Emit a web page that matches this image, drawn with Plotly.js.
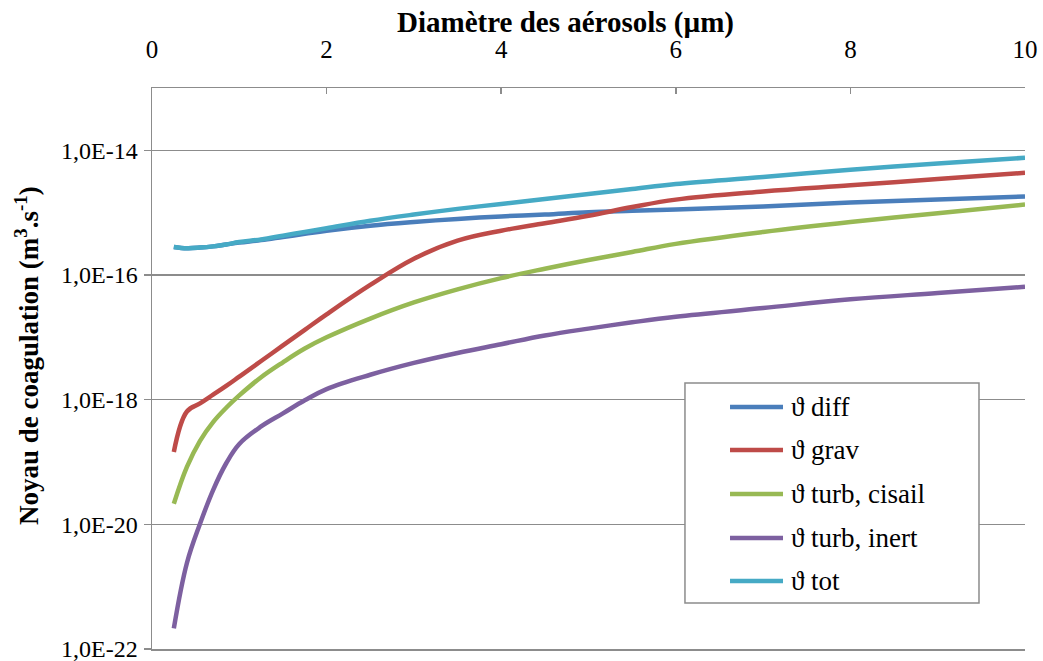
<!DOCTYPE html>
<html>
<head>
<meta charset="utf-8">
<script src="https://cdn.plot.ly/plotly-3.0.1.min.js"></script>
<style>html,body{margin:0;padding:0;background:#fff;}#chart{width:1043px;height:661px;}</style>
</head>
<body>
<div id="chart"></div>
<script>
// Diamètre des aérosols (µm)
const diameter = [0.25, 0.4, 0.55, 0.7, 0.85, 1.0, 1.25, 1.5, 1.75, 2, 2.5, 3, 3.5, 4, 4.5, 5, 5.5, 6, 7, 8, 9, 10];

const kDiff = [2.82e-16, 2.69e-16, 2.75e-16, 2.88e-16, 3.09e-16, 3.31e-16, 3.63e-16, 4.07e-16, 4.57e-16, 5.13e-16, 6.17e-16, 7.08e-16, 7.94e-16, 8.71e-16, 9.33e-16, 1.02e-15, 1.07e-15, 1.12e-15, 1.26e-15, 1.45e-15, 1.62e-15, 1.82e-15];
const kGrav = [1.45e-19, 6.46e-19, 8.71e-19, 1.20e-18, 1.66e-18, 2.34e-18, 4.17e-18, 7.41e-18, 1.32e-17, 2.34e-17, 6.92e-17, 1.82e-16, 3.55e-16, 5.13e-16, 6.76e-16, 8.91e-16, 1.23e-15, 1.62e-15, 2.19e-15, 2.75e-15, 3.47e-15, 4.37e-15];
const kTurbCis = [2.14e-20, 8.32e-20, 2.19e-19, 4.37e-19, 7.41e-19, 1.17e-18, 2.29e-18, 3.98e-18, 6.61e-18, 1.00e-17, 2.00e-17, 3.63e-17, 5.89e-17, 8.91e-17, 1.26e-16, 1.74e-16, 2.34e-16, 3.16e-16, 4.90e-16, 7.08e-16, 9.77e-16, 1.35e-15];
const kTurbIn = [2.14e-22, 2.40e-21, 1.02e-20, 3.55e-20, 9.55e-20, 1.95e-19, 3.72e-19, 6.03e-19, 9.77e-19, 1.48e-18, 2.51e-18, 3.89e-18, 5.62e-18, 7.76e-18, 1.07e-17, 1.38e-17, 1.74e-17, 2.14e-17, 2.95e-17, 4.07e-17, 5.13e-17, 6.46e-17];
const kTot = [2.82e-16, 2.69e-16, 2.75e-16, 2.88e-16, 3.09e-16, 3.39e-16, 3.72e-16, 4.27e-16, 4.90e-16, 5.62e-16, 7.41e-16, 9.33e-16, 1.15e-15, 1.38e-15, 1.66e-15, 2.00e-15, 2.40e-15, 2.88e-15, 3.72e-15, 4.90e-15, 6.17e-15, 7.59e-15];

const seriesNames = ["ϑ diff", "ϑ grav", "ϑ turb, cisail", "ϑ turb, inert", "ϑ tot"];
const seriesValues = [kDiff, kGrav, kTurbCis, kTurbIn, kTot];
const seriesColors = ["#4A7EBB", "#BE4B48", "#98B954", "#7D60A0", "#46AAC5"];

const yTickVals = [1e-22, 1e-20, 1e-18, 1e-16, 1e-14];
const yTickText = ["1,0E-22", "1,0E-20", "1,0E-18", "1,0E-16", "1,0E-14"];

const xTitle = "<b>Diamètre des aérosols (µm)</b>";
const yTitle = "<b>Noyau de coagulation (m<sup>3</sup>.s<sup>-1</sup>)</b>";

const FONT = "Liberation Serif, Times New Roman, Times, serif";
const GRID = "#8c8c8c";

const traces = seriesNames.map((name, i) => ({
  x: diameter,
  y: seriesValues[i],
  name: name,
  type: "scatter",
  mode: "lines",
  line: { color: seriesColors[i], width: 4.5, shape: "spline", smoothing: 1.1 },
  hoverinfo: "x+y+name"
}));

// Hand-built legend (box, line swatches and labels) placed in paper coordinates
const legBox = { x0: 0.6105, x1: 0.9473, y0: 0.082, y1: 0.4742 };
const legSwatch = { x0: 0.6621, x1: 0.7228, xText: 0.7297 };
const legRows = [0.4314, 0.3547, 0.2763, 0.1979, 0.1212];

const shapes = [{
  type: "rect", xref: "paper", yref: "paper",
  x0: legBox.x0, x1: legBox.x1, y0: legBox.y0, y1: legBox.y1,
  fillcolor: "#ffffff", line: { color: GRID, width: 1.5 }, layer: "above"
}];
const annotations = [];
seriesNames.forEach((name, i) => {
  shapes.push({
    type: "line", xref: "paper", yref: "paper",
    x0: legSwatch.x0, x1: legSwatch.x1, y0: legRows[i], y1: legRows[i],
    line: { color: seriesColors[i], width: 4.5 }, layer: "above"
  });
  annotations.push({
    xref: "paper", yref: "paper", x: legSwatch.xText, y: legRows[i],
    xanchor: "left", yanchor: "middle", showarrow: false,
    text: name, font: { family: FONT, size: 27, color: "#000000" }
  });
});

// Axis titles (placed like the original, centred on the chart area rather than the plot area)
annotations.push({
  xref: "paper", yref: "paper", x: 0.4737, y: 1.1159,
  xanchor: "center", yanchor: "middle", showarrow: false,
  text: xTitle, font: { family: FONT, size: 29, color: "#000000" }
});
annotations.push({
  xref: "paper", yref: "paper", x: -0.1432, y: 0.524,
  xanchor: "center", yanchor: "middle", showarrow: false, textangle: -90,
  text: yTitle, font: { family: FONT, size: 27, color: "#000000" }
});

const layout = {
  width: 1043,
  height: 661,
  margin: { l: 152, r: 18, t: 88, b: 12 },
  paper_bgcolor: "#ffffff",
  plot_bgcolor: "#ffffff",
  font: { family: FONT, color: "#000000", size: 22 },
  showlegend: false,
  shapes: shapes,
  annotations: annotations,
  xaxis: {
    side: "top",
    range: [0, 10],
    tickmode: "linear", tick0: 0, dtick: 2,
    ticks: "inside", ticklen: 6, tickwidth: 1.5, tickcolor: GRID,
    ticklabelstandoff: 19,
    showline: true, mirror: true, linecolor: GRID, linewidth: 1.5,
    showgrid: false, zeroline: false,
    tickfont: { family: FONT, size: 25, color: "#000000" }
  },
  yaxis: {
    type: "log",
    range: [-22, -13],
    tickmode: "array", tickvals: yTickVals, ticktext: yTickText,
    ticks: "outside", ticklen: 7, tickwidth: 1.5, tickcolor: GRID,
    ticklabelstandoff: 1,
    ticklabeloverflow: "allow",
    showline: true, linecolor: GRID, linewidth: 1.5,
    showgrid: true, gridcolor: GRID, gridwidth: 1.5,
    zeroline: false,
    tickfont: { family: FONT, size: 24, color: "#000000" }
  }
};

Plotly.newPlot("chart", traces, layout, { displayModeBar: false, staticPlot: true });
</script>
</body>
</html>
